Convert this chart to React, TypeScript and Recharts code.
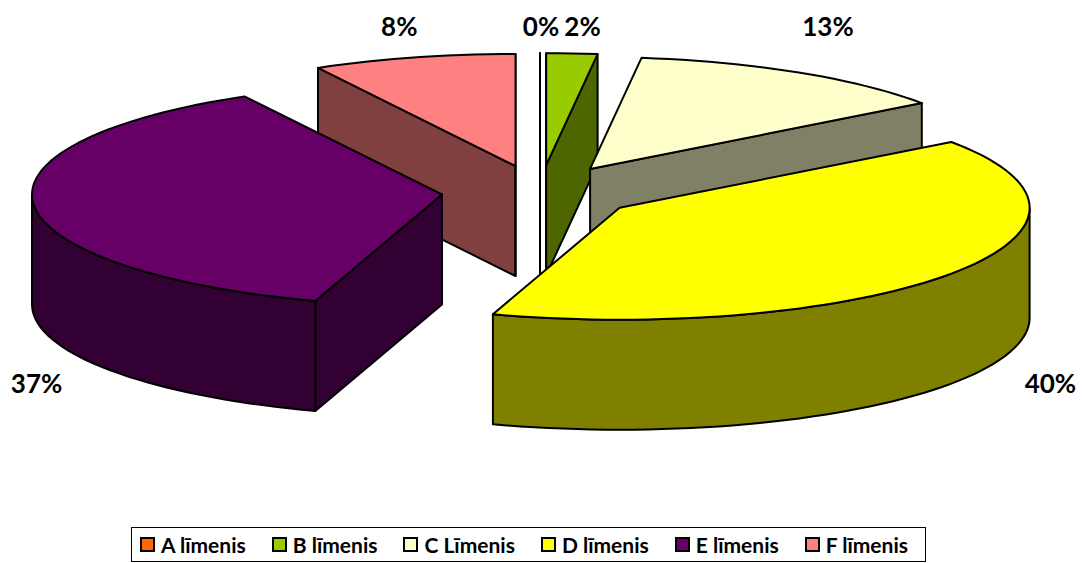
import React from 'react';
import { PieChart, Pie, Cell, Legend } from 'recharts';

const categories = ['A līmenis', 'B līmenis', 'C Līmenis', 'D līmenis', 'E līmenis', 'F līmenis'];
const shares = [0, 2, 13, 40, 37, 8];
const labelTexts = ['0%', '2%', '13%', '40%', '37%', '8%'];
const topColors = ['#FF6600', '#99CC00', '#FFFFCC', '#FFFF00', '#660066', '#FF8080'];
const sideColors = ['#803300', '#4D6600', '#808066', '#808000', '#330033', '#804040'];
// painter's order, back slices first
const drawOrder = [0, 5, 1, 2, 4, 3];

const pieData = categories.map((name, i) => ({ name, value: shares[i] }));

const RATIO = 0.273; // vertical squash of the tilted pie
const DEPTH = 110;
const EXPLODE = 0.24;
const CAM = 2.5;
const FONT = 'Lato, "Open Sans", sans-serif';

const rad = (d: number) => (d * Math.PI) / 180;

function geom(props: any) {
  const { cx, cy, outerRadius: R, startAngle, endAngle } = props;
  const t0 = 90 - startAngle;
  const t1 = 90 - endAngle;
  const tm = (t0 + t1) / 2;
  const ox = EXPLODE * R * Math.sin(rad(tm));
  const oy = -EXPLODE * R * RATIO * Math.cos(rad(tm));
  const pt = (t: number, r: number, dz = 0): [number, number] => [
    cx + ox + r * R * Math.sin(rad(t)),
    cy + oy - r * R * RATIO * Math.cos(rad(t)) + dz,
  ];
  return { cx, cy, R, t0, t1, tm, pt };
}

function arcPts(pt: any, a: number, b: number, dz: number) {
  const n = Math.max(2, Math.ceil(Math.abs(b - a) / 2));
  const out: [number, number][] = [];
  for (let i = 0; i <= n; i++) out.push(pt(a + ((b - a) * i) / n, 1, dz));
  return out;
}

const toPath = (pts: [number, number][]) =>
  'M' + pts.map((p) => `${p[0].toFixed(1)},${p[1].toFixed(1)}`).join(' L') + ' Z';

function sliceShape(props: any, only: number) {
  const idx = categories.indexOf(props.name ?? props.payload?.name);
  if (idx !== only) return <g />;
  const { t0, t1, tm, pt } = geom(props);
  const apex = pt(0, 0);
  const apexB = pt(0, 0, DEPTH);
  // apex in world units, camera in front
  const px = EXPLODE * Math.sin(rad(tm));
  const py = -EXPLODE * Math.cos(rad(tm));
  const seen = (nx: number, ny: number) => (0 - px) * nx + (CAM - py) * ny >= -0.001;
  const stroke = { stroke: '#000', strokeWidth: 2, strokeLinejoin: 'round' as const };
  const parts: React.ReactNode[] = [];

  if (seen(-Math.cos(rad(t0)), -Math.sin(rad(t0)))) {
    parts.push(
      <path key="w0" d={toPath([apex, pt(t0, 1), pt(t0, 1, DEPTH), apexB])} fill={sideColors[idx]} {...stroke} />
    );
  }
  if (seen(Math.cos(rad(t1)), Math.sin(rad(t1)))) {
    parts.push(
      <path key="w1" d={toPath([apex, pt(t1, 1), pt(t1, 1, DEPTH), apexB])} fill={sideColors[idx]} {...stroke} />
    );
  }
  const a = Math.max(t0, 90);
  const b = Math.min(t1, 270);
  if (b > a) {
    const top = arcPts(pt, a, b, 0);
    const bot = arcPts(pt, a, b, DEPTH).reverse();
    parts.push(<path key="side" d={toPath([...top, ...bot])} fill={sideColors[idx]} {...stroke} />);
  }
  parts.push(
    <path key="top" d={toPath([apex, ...arcPts(pt, t0, t1, 0)])} fill={topColors[idx]} {...stroke} />
  );
  return <g>{parts}</g>;
}

function labelShape(props: any) {
  const idx = categories.indexOf(props.name ?? props.payload?.name);
  const { cx, cy, R, tm } = geom(props);
  const s = Math.sin(rad(tm));
  const c = Math.cos(rad(tm));
  let x: number;
  let y: number;
  if (c > 0) {
    // labels of the thin slices near the top are pushed apart a little
    x = cx + s * R * 1.38 + (Math.abs(s) < 0.1 ? (s > 0.01 ? 7 : 1) : 0);
    y = cy - R * RATIO * (1 + EXPLODE) - 27;
  } else {
    x = cx + Math.sign(s) * R * (1 + EXPLODE) + (s < 0 ? 5 : 2);
    y = cy + R * RATIO + DEPTH - 31;
  }
  return (
    <text x={x} y={y} textAnchor="middle" dominantBaseline="central" fontFamily={FONT} fontWeight={700} fontSize={26} fill="#000">
      {labelTexts[idx]}
    </text>
  );
}

const renderLegend = (props: any) => {
  const seen = new Set<string>();
  const items = (props.payload || []).filter((e: any) => {
    if (seen.has(e.value)) return false;
    seen.add(e.value);
    return true;
  });
  return (
    <div
      style={{
        boxSizing: 'border-box',
        border: '1.5px solid #000',
        height: 35,
        display: 'flex',
        alignItems: 'center',
        justifyContent: 'space-between',
        padding: '0 17px 0 8px',
        fontFamily: FONT,
        fontWeight: 700,
        fontSize: 21,
        whiteSpace: 'nowrap',
        background: '#fff',
      }}
    >
      {items.map((e: any) => (
        <span key={e.value} style={{ display: 'flex', alignItems: 'center' }}>
          <span
            style={{
              display: 'inline-block',
              width: 11,
              height: 11,
              background: topColors[categories.indexOf(e.value)] ?? e.color,
              border: '2px solid #000',
              marginRight: 6,
            }}
          />
          {e.value}
        </span>
      ))}
    </div>
  );
};

export default function App() {
  return (
    <div style={{ position: 'absolute', left: 0, top: 0, background: '#fff' }}>
      <PieChart width={1082} height={563} margin={{ top: 0, right: 0, bottom: 0, left: 0 }}>
        {drawOrder.map((k, n) => (
          <Pie
            key={k}
            data={pieData}
            dataKey="value"
            nameKey="name"
            cx={540}
            cy={192}
            outerRadius={410}
            startAngle={90}
            endAngle={-270}
            stroke="none"
            isAnimationActive={false}
            legendType={n === 0 ? 'square' : 'none'}
            shape={(p: any) => sliceShape(p, k)}
          >
            {pieData.map((d, i) => (
              <Cell key={d.name} fill={topColors[i]} />
            ))}
          </Pie>
        ))}
        <Pie
          data={pieData}
          dataKey="value"
          nameKey="name"
          cx={540}
          cy={192}
          outerRadius={410}
          startAngle={90}
          endAngle={-270}
          stroke="none"
          isAnimationActive={false}
          legendType="none"
          shape={labelShape}
        />
        <Legend
          content={renderLegend}
          wrapperStyle={{ left: 131, top: 527, width: 795, height: 35 }}
        />
      </PieChart>
    </div>
  );
}
